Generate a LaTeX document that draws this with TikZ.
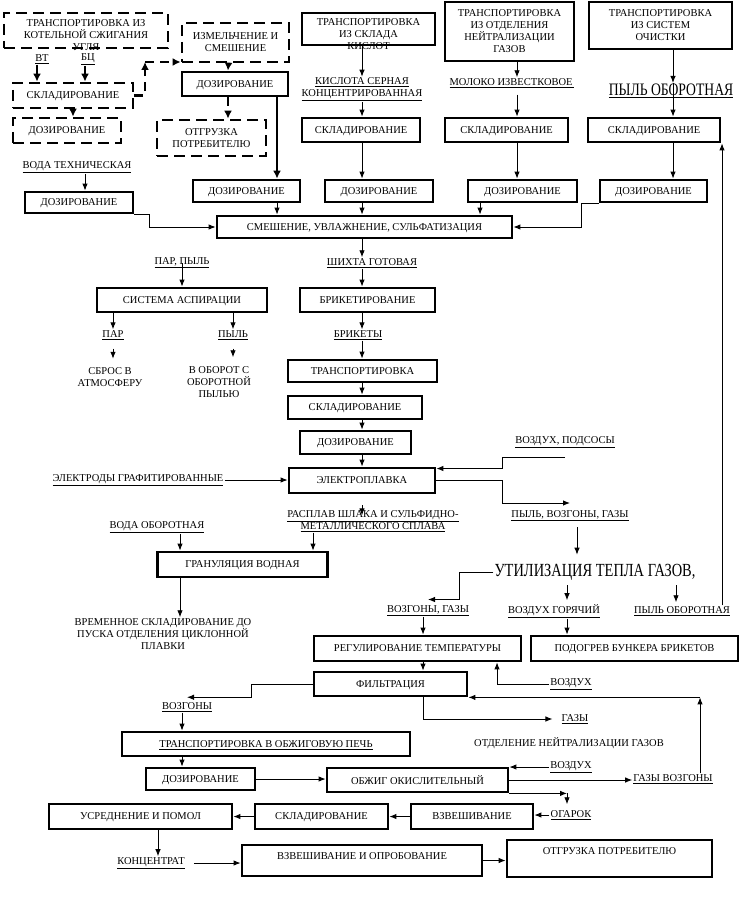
\documentclass[tikz,border=0pt]{standalone}
\usepackage{fontspec}
\setmainfont{Liberation Serif}
\newfontfamily\narrowfont[FakeStretch=0.78]{Liberation Serif}
\usetikzlibrary{arrows.meta}

\begin{document}
\begin{tikzpicture}[x=1pt, y=-1pt, >={Latex[length=7pt,width=5.5pt]},
    font=\fontsize{10.5}{12}\selectfont,
    box/.style={draw, line width=2.8pt, align=center, inner sep=1pt, text depth=0pt},
    dbox/.style={box, dash pattern=on 11pt off 6pt},
    lbl/.style={align=center, inner sep=1pt},
    big/.style={lbl, font=\narrowfont\fontsize{18}{20}\selectfont},
    flow/.style={line width=0.9pt},
    dflow/.style={line width=2.6pt, dash pattern=on 9pt off 6pt, -{Latex[length=8pt,width=8pt]}}]
\useasboundingbox (0,0) rectangle (746,901);
% columns of the arrows
\coordinate (cT) at (277,0);
\coordinate (cM) at (362,0);
\coordinate (cN) at (517,0);
\coordinate (cC) at (480,0);
\coordinate (cS) at (673,0);
\coordinate (cQ) at (180,0);
\coordinate (cP) at (313,0);
\coordinate (cU) at (577,0);
\coordinate (cA) at (567,0);
\coordinate (cB) at (676,0);
\coordinate (cR) at (722,0);
\coordinate (cF) at (423,0);
\coordinate (cV) at (497,0);
\coordinate (cG) at (700,0);
\coordinate (cL) at (182,0);
\coordinate (cK) at (158,0);
\coordinate (cD) at (145,62);
\coordinate (cE1) at (502,457);
\coordinate (cE2) at (502,503);

% top row
\node[dbox, minimum width=164pt, minimum height=35pt, label={[align=center,yshift=-4.5pt]center:{ТРАНСПОРТИРОВКА ИЗ\\КОТЕЛЬНОЙ СЖИГАНИЯ\\УГЛЯ}}] (kot) at (86,30.5) {};
\node[dbox, minimum width=107pt, minimum height=39pt] (izm) at (235.5,42.5) {ИЗМЕЛЬЧЕНИЕ И\\СМЕШЕНИЕ};
\node[box, minimum width=133pt, minimum height=32pt, label={[align=center,yshift=-5.5pt]center:{ТРАНСПОРТИРОВКА\\ИЗ СКЛАДА\\КИСЛОТ}}] (kis) at (368.5,29) {};
\node[box, minimum width=129pt, minimum height=59pt] (otd) at (509.5,31.5) {ТРАНСПОРТИРОВКА\\ИЗ ОТДЕЛЕНИЯ\\НЕЙТРАЛИЗАЦИИ\\ГАЗОВ};
\node[box, minimum width=143pt, minimum height=47pt] (sys) at (660.5,25.5) {ТРАНСПОРТИРОВКА\\ИЗ СИСТЕМ\\ОЧИСТКИ};

\node[lbl] (vt) at (42,59) {\underline{ВТ}};
\node[lbl] (bc) at (88,59) {\underline{БЦ}};
\node[dbox, minimum width=120pt, minimum height=25pt] (skl0) at (73,95.5) {СКЛАДИРОВАНИЕ};
\node[dbox, minimum width=108pt, minimum height=25pt] (dz1) at (67,130.5) {ДОЗИРОВАНИЕ};
\node[box, minimum width=106pt, minimum height=24pt] (dz0) at (235,84) {ДОЗИРОВАНИЕ};
\node[dbox, minimum width=109pt, minimum height=36pt] (otg0) at (211.5,138) {ОТГРУЗКА\\ПОТРЕБИТЕЛЮ};

\node[lbl] (kisl) at (362,89.5) {\underline{КИСЛОТА СЕРНАЯ}\\\underline{КОНЦЕНТРИРОВАННАЯ}};
\node[lbl] (mol) at (512,83) {\underline{МОЛОКО ИЗВЕСТКОВОЕ\,}};
\node[big, font=\narrowfont\fontsize{17.5}{20}\selectfont] (pyl0) at (671,91) {\underline{ПЫЛЬ ОБОРОТНАЯ}};
\node[box, minimum width=118pt, minimum height=24pt] (skl1) at (361,130) {СКЛАДИРОВАНИЕ};
\node[box, minimum width=123pt, minimum height=24pt] (skl2) at (506.5,130) {СКЛАДИРОВАНИЕ};
\node[box, minimum width=132pt, minimum height=24pt] (skl3) at (654,130) {СКЛАДИРОВАНИЕ};

\node[lbl] (voda) at (77,167) {\underline{ВОДА ТЕХНИЧЕСКАЯ}};
\node[box, minimum width=108pt, minimum height=21pt] (dzw) at (79,202.5) {ДОЗИРОВАНИЕ};
\node[box, minimum width=107pt, minimum height=22pt] (dzA) at (246.5,191) {ДОЗИРОВАНИЕ};
\node[box, minimum width=108pt, minimum height=22pt] (dzB) at (379,191) {ДОЗИРОВАНИЕ};
\node[box, minimum width=109pt, minimum height=22pt] (dzC) at (522.5,191) {ДОЗИРОВАНИЕ};
\node[box, minimum width=107pt, minimum height=22pt] (dzD) at (653.5,191) {ДОЗИРОВАНИЕ};
\node[box, minimum width=295pt, minimum height=22pt] (smes) at (364.5,227) {СМЕШЕНИЕ, УВЛАЖНЕНИЕ, СУЛЬФАТИЗАЦИЯ};

% middle
\node[lbl] (parpyl) at (182,263) {\underline{ПАР, ПЫЛЬ}};
\node[lbl] (shih) at (372,263) {\underline{ШИХТА ГОТОВАЯ}};
\node[box, minimum width=170pt, minimum height=24pt] (asp) at (182,300) {СИСТЕМА АСПИРАЦИИ};
\node[box, minimum width=135pt, minimum height=24pt] (brik) at (367.5,300) {БРИКЕТИРОВАНИЕ};
\node[lbl] (par) at (113,335) {\underline{ПАР}};
\node[lbl] (pyl1) at (233,335) {\underline{ПЫЛЬ}};
\node[lbl] (briket) at (358,335) {\underline{БРИКЕТЫ}};
\node[lbl] (sbros) at (110,377.5) {СБРОС В\\АТМОСФЕРУ};
\node[lbl] (vobor) at (219,382) {В ОБОРОТ С\\ОБОРОТНОЙ\\ПЫЛЬЮ};
\node[box, minimum width=149pt, minimum height=22pt] (trans) at (362.5,371) {ТРАНСПОРТИРОВКА};
\node[box, minimum width=134pt, minimum height=23pt] (skl4) at (355,407.5) {СКЛАДИРОВАНИЕ};
\node[box, minimum width=111pt, minimum height=23pt] (dz4) at (355.5,442.5) {ДОЗИРОВАНИЕ};
\node[lbl] (podsos) at (565,442) {\underline{ВОЗДУХ, ПОДСОСЫ}};
\node[lbl] (elektrod) at (138,480) {\underline{ЭЛЕКТРОДЫ ГРАФИТИРОВАННЫЕ}};
\node[box, minimum width=146pt, minimum height=25pt] (elek) at (362,480.5) {ЭЛЕКТРОПЛАВКА};
\node[lbl] (rasplav) at (373,521) {\underline{РАСПЛАВ ШЛАКА И СУЛЬФИДНО-}\\\underline{МЕТАЛЛИЧЕСКОГО СПЛАВА}};
\node[lbl] (pvg) at (570,516) {\underline{ПЫЛЬ, ВОЗГОНЫ, ГАЗЫ}};
\node[lbl] (vodob) at (157,527) {\underline{ВОДА ОБОРОТНАЯ}};
\node[box, minimum width=170pt, minimum height=25pt] (gran) at (242.5,564.5) {ГРАНУЛЯЦИЯ ВОДНАЯ};
\node[big, font=\narrowfont\fontsize{18.5}{20}\selectfont] (util) at (595,572) {УТИЛИЗАЦИЯ ТЕПЛА ГАЗОВ,};
\node[lbl] (vrem) at (163,634) {ВРЕМЕННОЕ СКЛАДИРОВАНИЕ ДО\\ПУСКА ОТДЕЛЕНИЯ ЦИКЛОННОЙ\\ПЛАВКИ};

% bottom
\node[lbl] (vozg0) at (428,611) {\underline{ВОЗГОНЫ, ГАЗЫ}};
\node[lbl] (vgor) at (554,611) {\underline{ВОЗДУХ ГОРЯЧИЙ}};
\node[lbl] (pyl2) at (682,611) {\underline{ПЫЛЬ ОБОРОТНАЯ}};
\node[box, minimum width=207pt, minimum height=25pt] (reg) at (417.5,648.5) {РЕГУЛИРОВАНИЕ ТЕМПЕРАТУРЫ};
\node[box, minimum width=207pt, minimum height=25pt] (pod) at (634.5,648.5) {ПОДОГРЕВ БУНКЕРА БРИКЕТОВ};
\node[box, minimum width=153pt, minimum height=24pt] (filt) at (390.5,684) {ФИЛЬТРАЦИЯ};
\node[lbl] (vozd0) at (571,684) {\underline{ВОЗДУХ}};
\node[lbl] (vozg1) at (187,707) {\underline{ВОЗГОНЫ}};
\node[lbl] (gazy) at (575,719) {\underline{ГАЗЫ}};
\node[box, minimum width=288pt, minimum height=24pt] (tpec) at (266,744) {\underline{ТРАНСПОРТИРОВКА В ОБЖИГОВУЮ ПЕЧЬ}};
\node[lbl] (otdn) at (569,743) {ОТДЕЛЕНИЕ НЕЙТРАЛИЗАЦИИ ГАЗОВ};
\node[box, minimum width=109pt, minimum height=22pt] (dz5) at (200.5,779) {ДОЗИРОВАНИЕ};
\node[box, minimum width=181pt, minimum height=24pt] (obzh) at (417.5,780) {ОБЖИГ ОКИСЛИТЕЛЬНЫЙ};
\node[lbl] (vozd1) at (571,767) {\underline{ВОЗДУХ}};
\node[lbl] (gv) at (673,779) {\underline{ГАЗЫ ВОЗГОНЫ}};
\node[box, minimum width=183pt, minimum height=25pt] (usr) at (140.5,816.5) {УСРЕДНЕНИЕ И ПОМОЛ};
\node[box, minimum width=133pt, minimum height=25pt] (skl5) at (321.5,816.5) {СКЛАДИРОВАНИЕ};
\node[box, minimum width=122pt, minimum height=25pt] (vzv) at (472,816.5) {ВЗВЕШИВАНИЕ};
\node[lbl] (ogar) at (571,815) {\underline{ОГАРОК}};
\node[lbl] (konc) at (151,863) {\underline{КОНЦЕНТРАТ}};
\node[box, minimum width=240pt, minimum height=31pt, label={[yshift=4.5pt]center:ВЗВЕШИВАНИЕ И ОПРОБОВАНИЕ}] (vzop) at (362,860.5) {};
\node[box, minimum width=205pt, minimum height=37pt, label={[yshift=7.5pt]center:ОТГРУЗКА ПОТРЕБИТЕЛЮ}] (otg1) at (609.5,858.5) {};

% dashed links
\draw[dflow] ([xshift=-5pt]vt.south) -- ([xshift=-5pt]vt.south |- skl0.north);
\draw[dflow] ([xshift=-3pt]bc.south) -- ([xshift=-3pt]bc.south |- skl0.north);
\draw[dflow] (skl0.south) -- (skl0.south |- dz1.north);
\draw[dflow] (skl0.east) -| (cD);
\draw[dflow] (cD) -- (cD -| izm.west);
\draw[dflow] ([xshift=-7pt]izm.south) -- ([xshift=-7pt]dz0.north);
\draw[dflow] ([xshift=-7pt]dz0.south) -- ([xshift=-7pt]dz0.south |- otg0.north);
\draw[line width=2pt, -{Latex[length=8pt,width=8pt]}] (cT |- dz0.south) -- (cT |- dzA.north);

% upper part
\draw[flow,->] ([xshift=8pt]voda.south) -- ([xshift=8pt]voda.south |- dzw.north);
\draw[flow,->] (dzw.south east) -- ++(15,0) |- (smes.west);
\draw[flow,->] (cT |- dzA.south) -- (cT |- smes.north);
\draw[flow,->] (cM |- kis.south) -- (cM |- kisl.north);
\draw[flow,->] (cM |- kisl.south) -- (cM |- skl1.north);
\draw[flow,->] (cM |- skl1.south) -- (cM |- dzB.north);
\draw[flow,->] (cM |- dzB.south) -- (cM |- smes.north);
\draw[flow,->] (cN |- otd.south) -- (cN |- mol.north);
\draw[flow,->, shorten <=6pt] (cN |- mol.south) -- (cN |- skl2.north);
\draw[flow,->] (cN |- skl2.south) -- (cN |- dzC.north);
\draw[flow,->] (cC |- dzC.south) -- (cC |- smes.north);
\draw[flow,->] (cS |- sys.south) -- (cS |- pyl0.north);
\draw[flow,->] (cS |- pyl0.north) -- (cS |- skl3.north);
\draw[flow,->] (cS |- skl3.south) -- (cS |- dzD.north);
\draw[flow,->] (dzD.south west) -- ++(-17,0) |- (smes.east);

% middle part
\draw[flow,->] (cM |- smes.south) -- (cM |- shih.north);
\draw[flow,->] (parpyl.center) -- (parpyl.center |- asp.north);
\draw[flow,->] (cM |- shih.south) -- (cM |- brik.north);
\draw[flow,->] (par.north |- asp.south) -- (par.north);
\draw[flow,->] (pyl1.north |- asp.south) -- (pyl1.north);
\draw[flow,->, shorten <=8pt, shorten >=8pt] (par.south) -- (par.south |- sbros.north);
\draw[flow,->, shorten <=8pt, shorten >=8pt] (pyl1.south) -- (pyl1.south |- vobor.north);
\draw[flow,->] (cM |- brik.south) -- (cM |- briket.north);
\draw[flow,->] (cM |- briket.south) -- (cM |- trans.north);
\draw[flow,->] (cM |- trans.south) -- (cM |- skl4.north);
\draw[flow,->] (cM |- skl4.south) -- (cM |- dz4.north);
\draw[flow,->] (cM |- dz4.south) -- (cM |- elek.north);
\draw[flow,->] (elektrod.east) -- (elektrod.east -| elek.west);
\draw[flow,->] (cE1 -| podsos) -- (cE1) |- ([yshift=12pt]elek.east);
\draw[flow,->] (elek.east) -| (cE2) -- (cE2 -| pvg);
\draw[flow,->] ([yshift=-11pt]elek.south) -- ([yshift=-21pt]elek.south);
\draw[flow,->] (cQ |- vodob.south) -- (cQ |- gran.north);
\draw[flow,->] (cP |- rasplav.south) -- (cP |- gran.north);
\draw[flow,->] (cQ |- gran.south) -- (cQ |- vrem.north);
\draw[flow,->, shorten <=5pt, shorten >=8pt] (cU |- pvg.south) -- (cU |- util.north);

% lower part
\draw[flow,->] (util.west) -- ++(-34,0) |- ([yshift=5pt]vozg0.north);
\draw[flow,->, shorten <=4pt, shorten >=3pt] (cA |- util.south) -- (cA |- vgor.north);
\draw[flow,->, shorten <=4pt, shorten >=3pt] (cB |- util.south) -- (cB |- pyl2.north);
\draw[flow,->] (cR |- pyl2.north) -- (cR |- skl3.south);
\draw[flow,->] (cF |- vozg0.south) -- (cF |- reg.north);
\draw[flow,->] (cA |- vgor.south) -- (cA |- pod.north);
\draw[flow,->] (cF |- reg.south) -- (cF |- filt.north);
\draw[flow,->] (vozd0.west) -| (cV |- reg.south);
\draw[flow,->] (cG |- gv.north) -- (cG |- filt.south east);
\draw[flow,->] (cG |- filt.south east) -- (filt.south east);
\draw[flow,->] (filt.west) -- ++(-61,0) |- ([yshift=4pt]vozg1.north);
\draw[flow,->] (cF |- filt.south) |- ([xshift=-8pt]gazy.west);
\draw[flow,->] (cL |- vozg1.south) -- (cL |- tpec.north);
\draw[flow,->] (cL |- tpec.south) -- (cL |- dz5.north);
\draw[flow,->] (dz5.east) -- (dz5.east -| obzh.west);
\draw[flow,->] (vozd1.west) -- (vozd1.west -| obzh.east);
\draw[flow,->] (obzh.east) -- (obzh.east -| gv.west);
\draw[flow,->] (obzh.south east) -- (cA |- obzh.south east);
\draw[flow,->, shorten >=5pt] (cA |- obzh.south east) -- (cA |- ogar.north);
\draw[flow,->] (ogar.west) -- (ogar.west -| vzv.east);
\draw[flow,->] (vzv.west) -- (skl5.east);
\draw[flow,->] (skl5.west) -- (usr.east);
\draw[flow,->] (cK |- usr.south) -- (cK |- konc.north);
\draw[flow,->, shorten <=8pt] (konc.east) -- (konc.east -| vzop.west);
\draw[flow,->] (vzop.east) -- (vzop.east -| otg1.west);
\end{tikzpicture}
\end{document}
